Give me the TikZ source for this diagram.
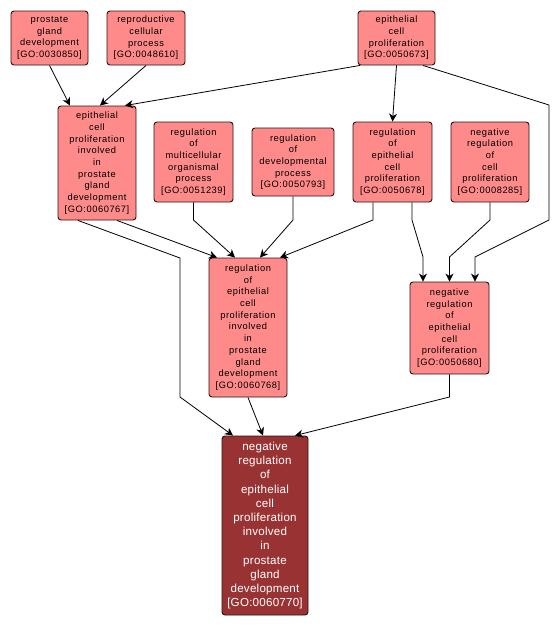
\documentclass[tikz,border=0pt]{standalone}
\usepackage{fontspec}
\setmainfont{Liberation Sans}
\newfontfamily\gofont[LetterSpace=6]{Liberation Sans}
\newfontfamily\gobig[LetterSpace=2]{Liberation Sans}
\usetikzlibrary{arrows.meta}
\definecolor{lightgo}{RGB}{255,138,138}
\definecolor{darkgo}{RGB}{153,51,51}
\definecolor{edgegray}{RGB}{40,20,20}
\tikzset{
  gobox/.style={draw=edgegray, line width=0.9pt, rounded corners=3pt, fill=lightgo,
    inner sep=0pt, align=center, text=black,
    font=\gofont\fontsize{9.3}{11.7}\selectfont},
  gotarget/.style={draw=edgegray, line width=0.9pt, rounded corners=3pt, fill=darkgo,
    inner sep=0pt, align=center, text=white,
    font=\gobig\fontsize{11.6}{14.2}\selectfont},
  golink/.style={draw=black, line width=0.8pt, -{Stealth[length=8pt,width=8pt,inset=2.5pt]}},
}
\begin{document}
\begin{tikzpicture}[x=1pt,y=-1pt]
\useasboundingbox (0,0) rectangle (559,627);
\fill[white] (0,0) rectangle (559,627);
% nodes
\node[gobox, minimum width=77pt, minimum height=54pt] (A) at (49.5,38) {prostate\\gland\\development\\{[GO:0030850]}};
\node[gobox, minimum width=78pt, minimum height=54pt] (B) at (146,38) {reproductive\\cellular\\process\\{[GO:0048610]}};
\node[gobox, minimum width=77pt, minimum height=54pt] (C) at (396.5,38) {epithelial\\cell\\proliferation\\{[GO:0050673]}};
\node[gobox, minimum width=78pt, minimum height=114pt] (D) at (97,163) {epithelial\\cell\\proliferation\\involved\\in\\prostate\\gland\\development\\{[GO:0060767]}};
\node[gobox, minimum width=79pt, minimum height=80pt] (E) at (193.5,162) {regulation\\of\\multicellular\\organismal\\process\\{[GO:0051239]}};
\node[gobox, minimum width=82pt, minimum height=68pt] (F) at (293,162) {regulation\\of\\developmental\\process\\{[GO:0050793]}};
\node[gobox, minimum width=79pt, minimum height=80pt] (G) at (392.5,162) {regulation\\of\\epithelial\\cell\\proliferation\\{[GO:0050678]}};
\node[gobox, minimum width=78pt, minimum height=80pt] (H) at (490,162) {negative\\regulation\\of\\cell\\proliferation\\{[GO:0008285]}};
\node[gobox, minimum width=78pt, minimum height=139pt] (I) at (248,327.5) {regulation\\of\\epithelial\\cell\\proliferation\\involved\\in\\prostate\\gland\\development\\{[GO:0060768]}};
\node[gobox, minimum width=79pt, minimum height=92pt] (J) at (449.5,328) {negative\\regulation\\of\\epithelial\\cell\\proliferation\\{[GO:0050680]}};
\node[gotarget, minimum width=86pt, minimum height=179pt] (K) at (265,525.5) {negative\\regulation\\of\\epithelial\\cell\\proliferation\\involved\\in\\prostate\\gland\\development\\{[GO:0060770]}};
% edges
\draw[golink] (A.south) -- ([xshift=-27pt]D.north);
\draw[golink] (B.south) -- ([xshift=3pt]D.north);
\draw[golink] ([xshift=-36.5pt]C.south) -- ([xshift=28pt]D.north);
\draw[golink] (C.south) -- (G.north);
\draw[golink] ([xshift=26.5pt]C.south) -- (549,105) -- (549,220) -- ([xshift=25.5pt]J.north |- 0,257) -- ([xshift=25.5pt]J.north);
\draw[golink] ([xshift=20pt]D.south) -- ([xshift=-31pt]I.north);
\draw[golink] ([xshift=-19pt]D.south) -- (180,258) -- (180,397) -- ([xshift=-32pt]K.north);
\draw[golink] (E.south) -- (E.south |- 0,220) -- ([xshift=-13pt]I.north);
\draw[golink] (F.south) -- (F.south |- 0,220) -- ([xshift=12pt]I.north);
\draw[golink] ([xshift=-19.5pt]G.south) -- ([xshift=-19.5pt]G.south |- 0,220) -- ([xshift=32pt]I.north);
\draw[golink] ([xshift=19.5pt]G.south) -- ([xshift=19.5pt]G.south |- 0,220) -- ([xshift=-26.5pt]J.north |- 0,257) -- ([xshift=-26.5pt]J.north);
\draw[golink] (H.south) -- (H.south |- 0,220) -- (J.north |- 0,257) -- (J.north);
\draw[golink] (I.south) -- ([xshift=-2pt]K.north);
\draw[golink] (J.south) -- (J.south |- 0,397) -- ([xshift=30pt]K.north);
\end{tikzpicture}
\end{document}
